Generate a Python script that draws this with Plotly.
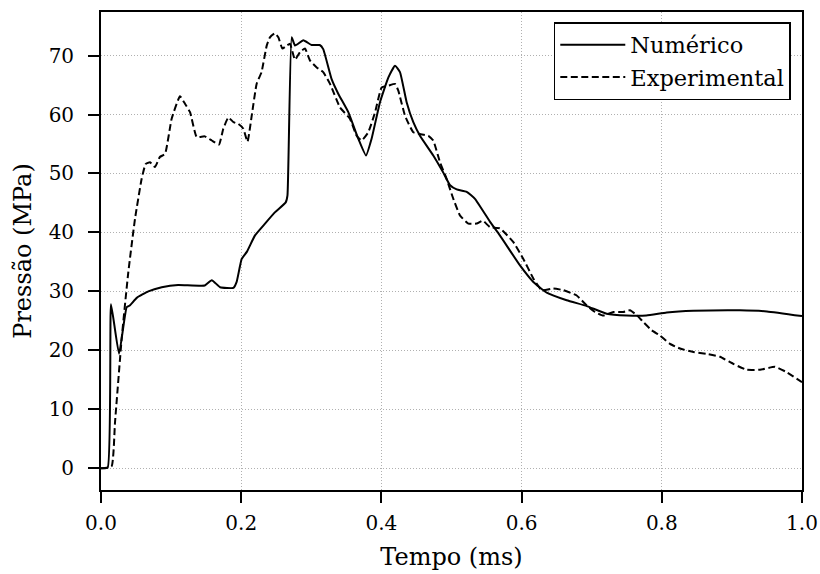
import plotly.graph_objects as go

# Numérico (solid)
t_num = [0.0, 0.0095, 0.0143, 0.0257, 0.0366, 0.041, 0.051, 0.0675, 0.0866, 0.110, 0.148,
         0.158, 0.170, 0.189, 0.1935, 0.2007, 0.208, 0.2197, 0.234, 0.248, 0.2635, 0.266,
         0.272, 0.2768, 0.2886, 0.3005, 0.312, 0.317, 0.329, 0.3386, 0.3528, 0.367, 0.378,
         0.386, 0.398, 0.41, 0.4194, 0.4265, 0.436, 0.4455, 0.455, 0.474, 0.488, 0.498,
         0.5074, 0.5217, 0.5335, 0.555, 0.569, 0.5977, 0.6167, 0.6358, 0.6643, 0.693,
         0.7214, 0.75, 0.778, 0.807, 0.845, 0.9115, 0.95, 1.0]
p_num = [0.0, 0.1, 27.8, 19.4, 27.3, 27.6, 28.9, 30.0, 30.7, 31.1, 31.0,
         31.9, 30.7, 30.6, 31.6, 35.5, 36.7, 39.5, 41.5, 43.4, 45.1, 46.3,
         73.1, 71.7, 72.6, 71.8, 71.8, 71.1, 66.0, 63.5, 60.4, 55.9, 53.05,
         55.9, 62.1, 66.3, 68.3, 67.2, 62.1, 58.7, 56.4, 53.05, 50.2, 48.0,
         47.3, 46.9, 45.7, 41.8, 39.5, 34.4, 31.6, 29.8, 28.5, 27.5,
         26.2, 25.9, 25.9, 26.4, 26.7, 26.8, 26.6, 25.8]

# Experimental (dashed)
t_exp = [0.0, 0.015, 0.02, 0.0295, 0.039, 0.0485, 0.058, 0.0637, 0.07, 0.077, 0.084,
         0.0913, 0.1008, 0.1127, 0.12, 0.127, 0.1365, 0.148, 0.158, 0.1683, 0.1745,
         0.1817, 0.189, 0.196, 0.203, 0.209, 0.215, 0.222, 0.229, 0.2364, 0.241, 0.248,
         0.253, 0.2587, 0.265, 0.2696, 0.2767, 0.284, 0.291, 0.298, 0.3077, 0.317, 0.3267,
         0.341, 0.355, 0.3647, 0.3717, 0.3813, 0.391, 0.4004, 0.41, 0.4194, 0.424, 0.4337,
         0.4455, 0.455, 0.467, 0.474, 0.4836, 0.493, 0.5026, 0.512, 0.524, 0.536, 0.5445,
         0.555, 0.569, 0.588, 0.6025, 0.6167, 0.6287, 0.645, 0.6595, 0.6786, 0.693, 0.7047,
         0.7166, 0.731, 0.745, 0.7546, 0.764, 0.7736, 0.7856, 0.7974, 0.8117, 0.826, 0.845,
         0.864, 0.883, 0.902, 0.921, 0.94, 0.9615, 0.978, 1.0]
p_exp = [0.0, 0.3, 7.8, 22.0, 33.3, 42.3, 49.1, 51.6, 51.9, 51.1, 52.8,
         53.3, 59.3, 63.1, 61.8, 60.4, 56.2, 56.3, 55.6, 54.9, 57.6,
         59.5, 58.7, 58.4, 57.6, 55.4, 59.8, 65.2, 67.2, 71.7, 73.1, 73.8,
         73.1, 71.2, 71.7, 72.0, 69.3, 70.6, 71.2, 69.2, 68.0, 67.2, 65.2,
         61.2, 59.3, 56.4, 55.6, 57.0, 60.4, 64.6, 64.9, 65.2, 64.1, 59.8,
         57.0, 56.7, 56.4, 55.6, 51.9, 49.1, 45.7, 42.9, 41.5, 41.5, 42.0,
         40.9, 40.7, 38.4, 35.5, 32.2, 30.2, 30.5, 30.2, 29.3, 27.6, 26.5,
         25.9, 26.5, 26.5, 26.8, 26.0, 24.8, 23.4, 22.5, 21.1, 20.3, 19.7,
         19.4, 18.9, 17.7, 16.7, 16.7, 17.2, 16.3, 14.6]

x_ticks = [0.0, 0.2, 0.4, 0.6, 0.8, 1.0]
y_ticks = [0, 10, 20, 30, 40, 50, 60, 70]

FONT = "DejaVu Serif"

fig = go.Figure()
fig.add_trace(go.Scatter(x=t_num, y=p_num, mode="lines", name="Numérico",
                         line=dict(color="black", width=2, dash="solid",
                                   shape="spline", smoothing=0.4)))
fig.add_trace(go.Scatter(x=t_exp, y=p_exp, mode="lines", name="Experimental",
                         line=dict(color="black", width=2, dash="7px,3.5px",
                                   shape="spline", smoothing=0.4)))

axis_common = dict(
    showline=True, linecolor="black", linewidth=1.8, mirror=True,
    ticks="outside", ticklen=11, tickwidth=1.5, tickcolor="black",
    showgrid=True, gridcolor="#b0b0b0", griddash="1px,2px", gridwidth=1,
    zeroline=False, automargin=False,
    tickfont=dict(family=FONT, size=20, color="black"),
)

fig.update_layout(
    template="none",
    width=820, height=574,
    margin=dict(l=101, r=18, t=12, b=84),
    paper_bgcolor="white", plot_bgcolor="white",
    font=dict(family=FONT, color="black"),
    xaxis=dict(range=[0, 1.0], tickvals=x_ticks, ticktext=[f"{v:.1f}" for v in x_ticks],
               ticklabelstandoff=3,
               title=dict(text="Tempo (ms)", font=dict(family=FONT, size=24), standoff=14),
               **axis_common),
    yaxis=dict(range=[-3.7, 77.4], tickvals=y_ticks, ticklabelstandoff=10,
               title=dict(text="Pressão (MPa)", font=dict(family=FONT, size=24), standoff=10),
               **axis_common),
    legend=dict(x=0.984, y=0.979, xanchor="right", yanchor="top",
                bgcolor="white", bordercolor="black", borderwidth=1.5,
                font=dict(family=FONT, size=22.5), tracegroupgap=0,
                itemwidth=65),
    showlegend=True,
)

fig.write_html("out.html")
